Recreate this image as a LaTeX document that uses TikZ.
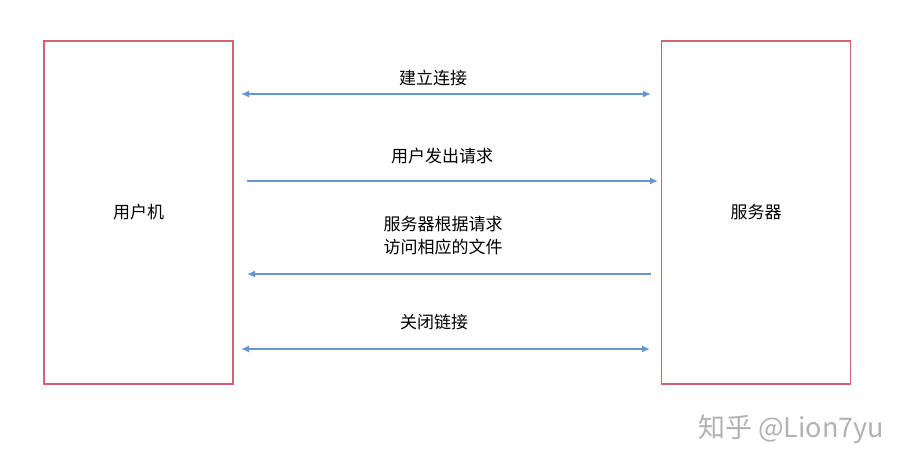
\documentclass[tikz,border=0pt]{standalone}
\usepackage{fontspec}
\setmainfont{Noto Sans CJK SC}
\usetikzlibrary{positioning}
\definecolor{boxred}{RGB}{214,96,116}
\definecolor{lineblue}{RGB}{100,150,210}
\tikzset{
    hostbox/.style={draw=boxred,line width=1.4pt,minimum width=189pt,minimum height=343pt,font=\fontsize{17}{20}\selectfont},
    msg/.style={draw=lineblue,line width=1.5pt,>={latex[length=7pt,width=6pt]}},
    msglabel/.style={font=\fontsize{17}{23}\selectfont,align=center}
}
\usetikzlibrary{arrows.meta}
\begin{document}
\begin{tikzpicture}[x=1pt,y=-1pt]
    \useasboundingbox[fill=white] (0,0) rectangle (907,469);
    \node[hostbox] (client) at (138.5,212.5) {用户机};
    \node[hostbox] (server) at (756,212.5) {服务器};
    % connectors
    \coordinate (c1) at (241,94);  \coordinate (s1) at (651,94);
    \coordinate (c2) at (247,181); \coordinate (s2) at (658,181);
    \coordinate (c3) at (247,274); \coordinate (s3) at (651,274);
    \coordinate (c4) at (241,349); \coordinate (s4) at (650,349);
    \draw[msg,{Latex[length=8pt,width=7pt]}-{Latex[length=8pt,width=7pt]}] (c1) -- (s1);
    \draw[msg,-{Latex[length=8pt,width=7pt]}] (c2) -- (s2);
    \draw[msg,-{Latex[length=8pt,width=7pt]}] (s3) -- (c3);
    \draw[msg,{Latex[length=8pt,width=7pt]}-{Latex[length=8pt,width=7pt]}] (c4) -- (s4);
    \node[msglabel] (l1) at (433,78) {建立连接};
    \node[msglabel] (l2) at (442,156) {用户发出请求};
    \node[msglabel] (l3) at (443,236) {服务器根据请求\\访问相应的文件};
    \node[msglabel] (l4) at (434,322) {关闭链接};
    \node[font=\fontsize{27}{30}\selectfont,text=gray!60] (mark) at (791,429) {知乎 @Lion7yu};
\end{tikzpicture}
\end{document}
